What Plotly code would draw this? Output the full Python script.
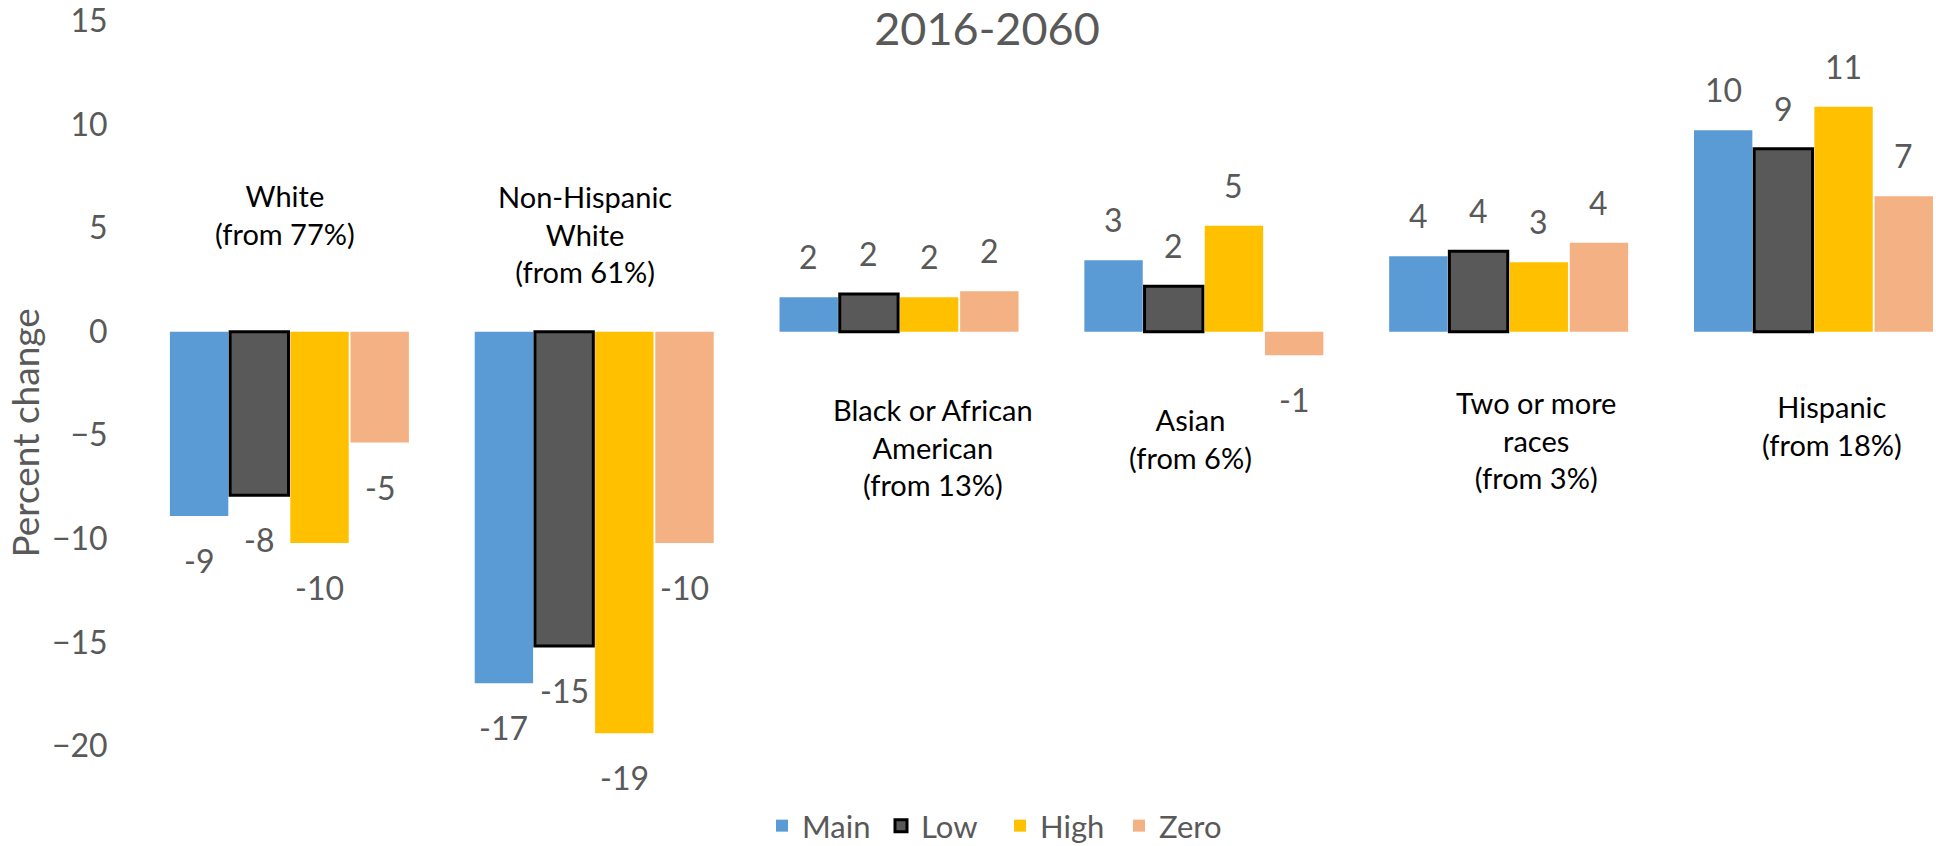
import plotly.graph_objects as go

# Data (percent change 2016-2060)
categories = ["White", "Non-Hispanic White", "Black or African American",
              "Asian", "Two or more races", "Hispanic"]
category_labels = ["White<br>(from 77%)",
                   "Non-Hispanic<br>White<br>(from 61%)",
                   "Black or African<br>American<br>(from 13%)",
                   "Asian<br>(from 6%)",
                   "Two or more<br>races<br>(from 3%)",
                   "Hispanic<br>(from 18%)"]
series_names = ["Main", "Low", "High", "Zero"]
main = [-8.9, -16.97, 1.66, 3.45, 3.64, 9.73]
low = [-7.9, -15.17, 1.82, 2.19, 3.88, 8.83]
high = [-10.2, -19.39, 1.66, 5.12, 3.35, 10.86]
zero = [-5.35, -10.2, 1.95, -1.14, 4.29, 6.54]
y_ticks = [-20, -15, -10, -5, 0, 5, 10, 15]

# Styling
colors = ["#5B9BD5", "#595959", "#FFC000", "#F4B183"]
FONT = "Lato"
GREY = "#595959"
BARGAP = 0.21
GROUPGAP = 0.03
W, H = 1936, 846

# where the category captions sit (x offset in categories, y in axis units)
label_dx = [-0.015, -0.03, 0.11, -0.045, 0.09, 0.06]
label_y = [5.68, 4.72, -5.55, -5.17, -5.25, -4.55]

fig = go.Figure()
all_series = [main, low, high, zero]
for name, vals, col in zip(series_names, all_series, colors):
    fig.add_trace(go.Bar(
        name=name,
        x=categories,
        y=vals,
        marker=dict(color=col,
                    line=dict(color="black", width=3 if name == "Low" else 0)),
    ))

annotations = []

# value labels outside the bar ends
slot = (1 - BARGAP) / len(all_series)
for j, vals in enumerate(all_series):
    for i, v in enumerate(vals):
        xpos = i - (1 - BARGAP) / 2 + (j + 0.5) * slot
        annotations.append(dict(
            x=xpos, y=v, xref="x", yref="y",
            text=f"{v:.0f}", showarrow=False,
            font=dict(family=FONT, size=32, color=GREY),
            yanchor="bottom" if v >= 0 else "top",
            yshift=19 if v >= 0 else -23,
        ))

# category captions inside the plot
for i, txt in enumerate(category_labels):
    annotations.append(dict(
        x=i + label_dx[i], y=label_y[i], xref="x", yref="y",
        text=txt, showarrow=False, align="center",
        font=dict(family=FONT, size=29, color="black"),
        xanchor="center", yanchor="middle",
    ))

# y-axis title
annotations.append(dict(
    x=0, y=0.431, xref="paper", yref="paper", xshift=-112,
    text="Percent change", textangle=-90, showarrow=False,
    font=dict(family=FONT, size=37, color=GREY),
    xanchor="center", yanchor="middle",
))

fig.update_layout(
    width=W,
    height=H,
    margin=dict(l=137, r=0, t=21, b=100),
    plot_bgcolor="white",
    paper_bgcolor="white",
    barmode="group",
    bargap=BARGAP,
    bargroupgap=GROUPGAP,
    title=dict(text="2016-2060", x=987 / W, xanchor="center",
               y=1 - 29 / H, yanchor="middle",
               xref="container", yref="container",
               font=dict(family=FONT, size=45, color=GREY)),
    legend=dict(orientation="h", xref="container", yref="container",
                x=1000 / W, xanchor="center",
                y=1 - 826 / H, yanchor="middle",
                font=dict(family=FONT, size=31, color=GREY),
                entrywidth=74, itemclick=False),
    annotations=annotations,
    showlegend=True,
)

fig.update_xaxes(showticklabels=False, showgrid=False, zeroline=False,
                 showline=False, range=[-0.5, 5.402])
fig.update_yaxes(range=[-20, 15], tickvals=y_ticks, showgrid=False,
                 zeroline=False, showline=False, ticks="outside", ticklen=22,
                 tickcolor="rgba(0,0,0,0)", ticklabeloverflow="allow",
                 tickfont=dict(family=FONT, size=32, color=GREY))

# the page body has a default 8px margin; drop it so the figure fills the window
fig.write_html("out.html", config={"displayModeBar": False},
               post_script="document.body.style.margin = '0';")
